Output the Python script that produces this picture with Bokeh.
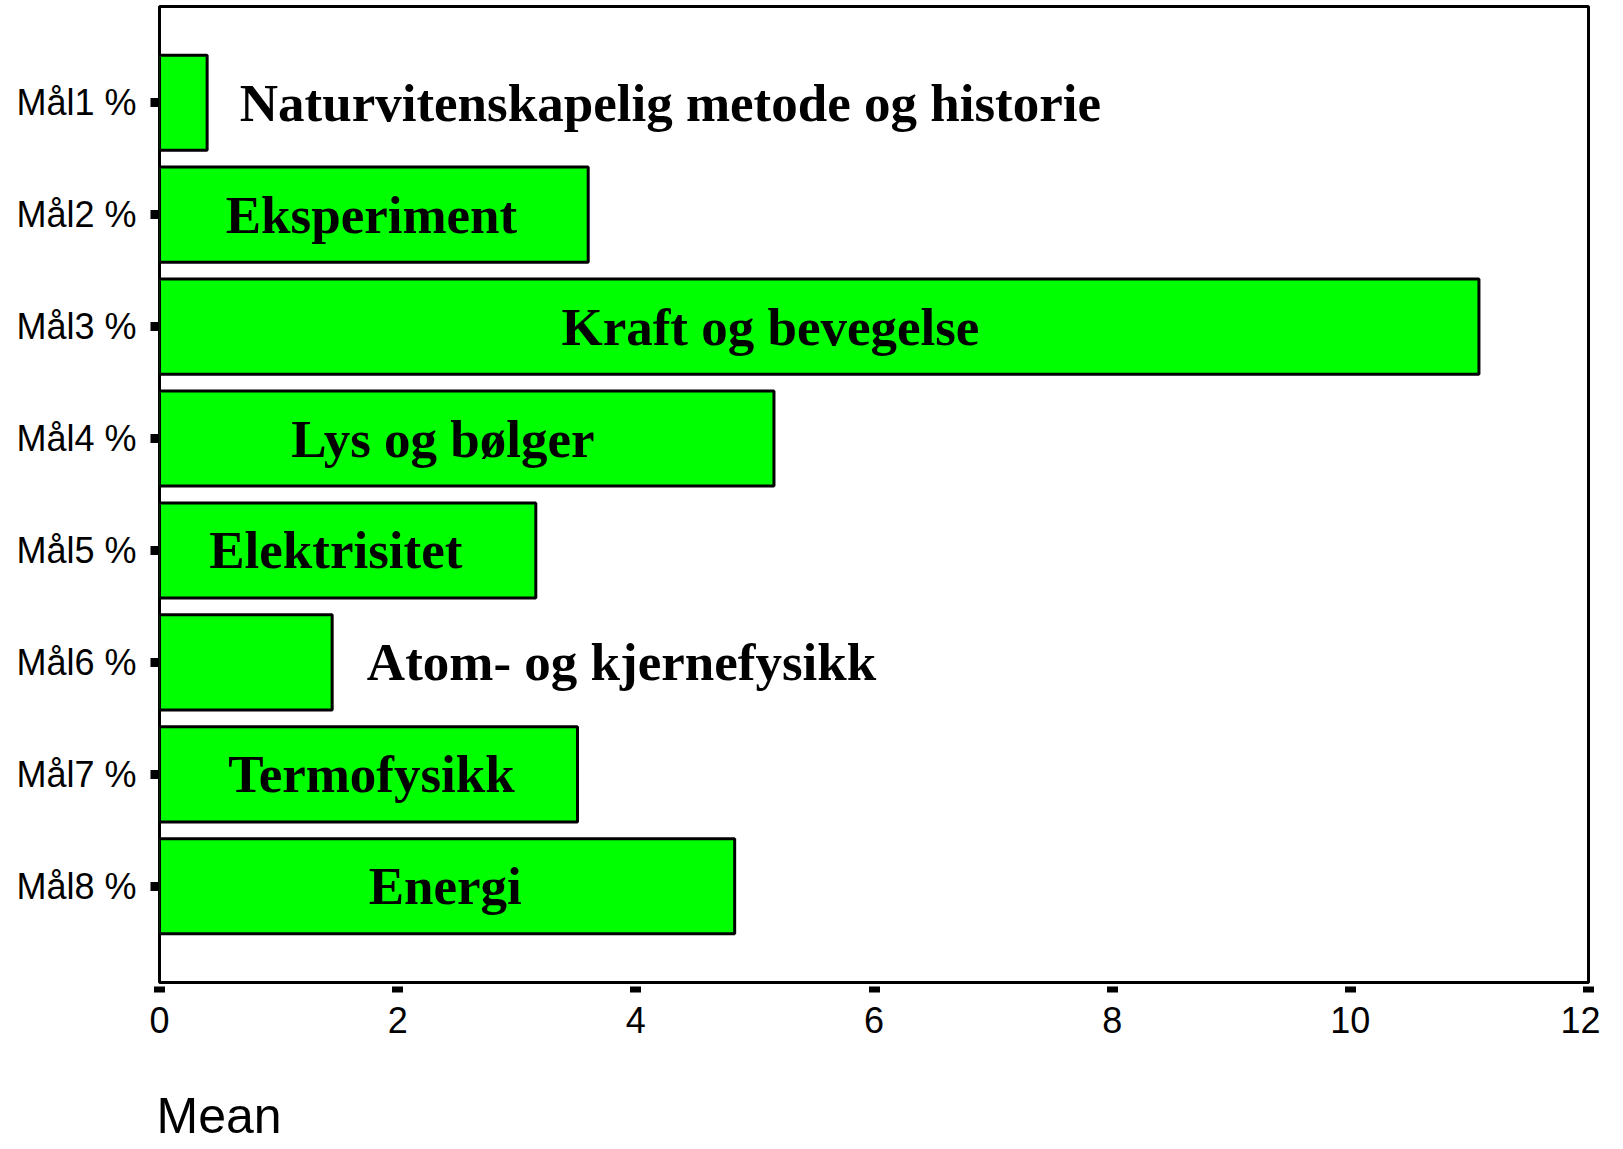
from bokeh.plotting import figure
from bokeh.models import FactorRange, Range1d, Title, FixedTicker
from bokeh.core.properties import value
from bokeh.embed import file_html
from bokeh.resources import INLINE

categories = ["Mål1 %", "Mål2 %", "Mål3 %", "Mål4 %", "Mål5 %", "Mål6 %", "Mål7 %", "Mål8 %"]
means = [0.40, 3.60, 11.08, 5.16, 3.16, 1.45, 3.51, 4.83]
topics = ["Naturvitenskapelig metode og historie", "Eksperiment", "Kraft og bevegelse",
          "Lys og bølger", "Elektrisitet", "Atom- og kjernefysikk", "Termofysikk", "Energi"]
x_ticks = [0, 2, 4, 6, 8, 10, 12]
x_title = "Mean"

# annotation placement (x centre of each topic label, in data units)
label_x = [4.29, 1.78, 5.13, 2.38, 1.48, 3.88, 1.78, 2.40]

y_range = FactorRange(factors=list(reversed(categories)), range_padding=0.36,
                      range_padding_units="absolute")

p = figure(width=1600, height=1145, y_range=y_range, x_range=Range1d(0, 12),
           output_backend="svg", toolbar_location=None,
           min_border_left=159, min_border_right=12, min_border_top=6, min_border_bottom=163)

p.hbar(y=categories, right=means, left=0, height=0.85,
       fill_color="#00ff00", line_color="black", line_width=3)

p.text(x=label_x, y=categories, text=topics, text_align="center", text_baseline="middle",
       text_font=value("Liberation Serif"), text_font_style="bold",
       text_font_size="53px", text_color="black")

p.xgrid.visible = False
p.ygrid.visible = False
p.outline_line_color = "black"
p.outline_line_width = 3
p.background_fill_color = "white"
p.border_fill_color = "white"

p.xaxis.ticker = FixedTicker(ticks=x_ticks)
p.xaxis.minor_tick_line_color = None
p.xaxis.axis_line_color = None
p.xaxis.major_tick_line_color = "black"
p.xaxis.major_tick_line_width = 11
p.xaxis.major_tick_in = -4
p.xaxis.major_tick_out = 10
p.xaxis.major_label_standoff = 14
p.xaxis.major_label_text_font = "Liberation Sans"
p.xaxis.major_label_text_font_size = "36px"
p.xaxis.major_label_text_color = "black"

p.yaxis.axis_line_color = None
p.yaxis.major_tick_line_color = "black"
p.yaxis.major_tick_line_width = 9
p.yaxis.major_tick_in = -1
p.yaxis.major_tick_out = 9
p.yaxis.minor_tick_line_color = None
p.yaxis.major_label_standoff = 14
p.yaxis.major_label_text_font = "Liberation Sans"
p.yaxis.major_label_text_font_size = "36px"
p.yaxis.major_label_text_color = "black"

# blank spacer panel between the tick labels and the "Mean" caption
p.add_layout(Title(text=" ", text_font="Liberation Sans", text_font_size="43px",
                   standoff=0), "below")
p.add_layout(Title(text=x_title, align="left", text_font="Liberation Sans",
                   text_font_size="50px", text_font_style="normal",
                   text_color="black", standoff=0, offset=-3), "below")

open("out.html", "w").write(file_html(p, INLINE))
